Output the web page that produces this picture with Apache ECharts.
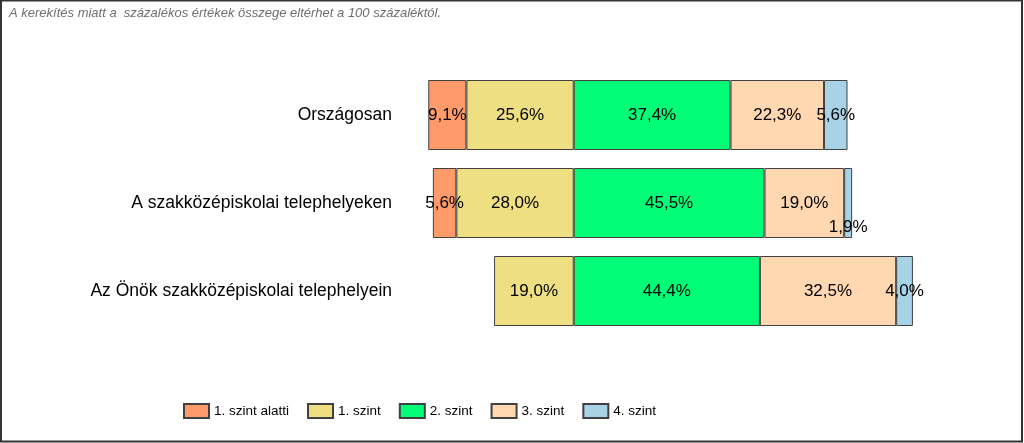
<!DOCTYPE html>
<html>
<head>
<meta charset="utf-8">
<script src="https://cdn.jsdelivr.net/npm/echarts@6/dist/echarts.min.js"></script>
<style>
html,body{margin:0;padding:0;background:#fff;}
#c{width:1024px;height:443px;}
</style>
</head>
<body>
<div id="c"></div>
<script>
var categories = ['Országosan', 'A szakközépiskolai telephelyeken', 'Az Önök szakközépiskolai telephelyein'];
var levelNames = ['1. szint alatti', '1. szint', '2. szint', '3. szint', '4. szint'];
var belowLevel1 = [9.1, 5.6, 0];
var level1 = [25.6, 28.0, 19.0];
var level2 = [37.4, 45.5, 44.4];
var level3 = [22.3, 19.0, 32.5];
var level4 = [5.6, 1.9, 4.0];
var colors = ['#FF9A6A', '#EEE082', '#00FF76', '#FFD7B0', '#A8D3E6'];

var FONT = "'Liberation Sans', Arial, sans-serif";

function fmt(v) {
  var a = Math.abs(v);
  if (!a) return '';
  return a.toFixed(1).replace('.', ',') + '%';
}

function mkSeries(name, values, sign, color, shifted) {
  return {
    name: name,
    type: 'bar',
    stack: 'total',
    barWidth: 70,
    data: values.map(function (v) { return v === 0 ? null : sign * v; }),
    itemStyle: { color: color, borderColor: '#404040', borderWidth: 1 },
    label: {
      show: true,
      position: 'inside',
      color: '#000',
      fontFamily: FONT,
      fontSize: 17,
      formatter: function (p) { return fmt(p.value); }
    },
    labelLayout: function (params) {
      if (shifted && shifted[params.dataIndex]) {
        return { dy: 24, hideOverlap: false };
      }
      return { hideOverlap: false };
    },
    emphasis: { disabled: true }
  };
}

var chart = echarts.init(document.getElementById('c'), null, { renderer: 'canvas' });
chart.setOption({
  animation: false,
  backgroundColor: '#fff',
  title: {
    text: 'A kerekítés miatt a  százalékos értékek összege eltérhet a 100 százaléktól.',
    left: 4,
    top: 2,
    textStyle: { fontFamily: FONT, fontSize: 13, fontStyle: 'italic', fontWeight: 'normal', color: '#6e6e6e' }
  },
  legend: {
    data: levelNames,
    left: 178,
    top: 398,
    itemWidth: 25,
    itemHeight: 14,
    itemGap: 18,
    icon: 'rect',
    textStyle: { fontFamily: FONT, fontSize: 13.5, color: '#000' },
    selectedMode: false
  },
  grid: { left: 401, top: 71, width: 592, height: 264, containLabel: false },
  xAxis: { type: 'value', min: -41.2, max: 100, show: false },
  yAxis: {
    type: 'category',
    data: categories,
    inverse: true,
    axisLine: { show: false },
    axisTick: { show: false },
    splitLine: { show: false },
    axisLabel: { margin: 9, color: '#000', fontFamily: FONT, fontSize: 17.5 }
  },
  series: [
    mkSeries(levelNames[1], level1, -1, colors[1]),
    mkSeries(levelNames[0], belowLevel1, -1, colors[0]),
    mkSeries(levelNames[2], level2, 1, colors[2]),
    mkSeries(levelNames[3], level3, 1, colors[3]),
    mkSeries(levelNames[4], level4, 1, colors[4], [false, true, false])
  ],
  graphic: [{
    type: 'rect',
    shape: { x: 1, y: 0.5, width: 1021, height: 441 },
    style: { fill: 'none', stroke: '#333', lineWidth: 2 },
    silent: true
  }]
});
</script>
</body>
</html>
